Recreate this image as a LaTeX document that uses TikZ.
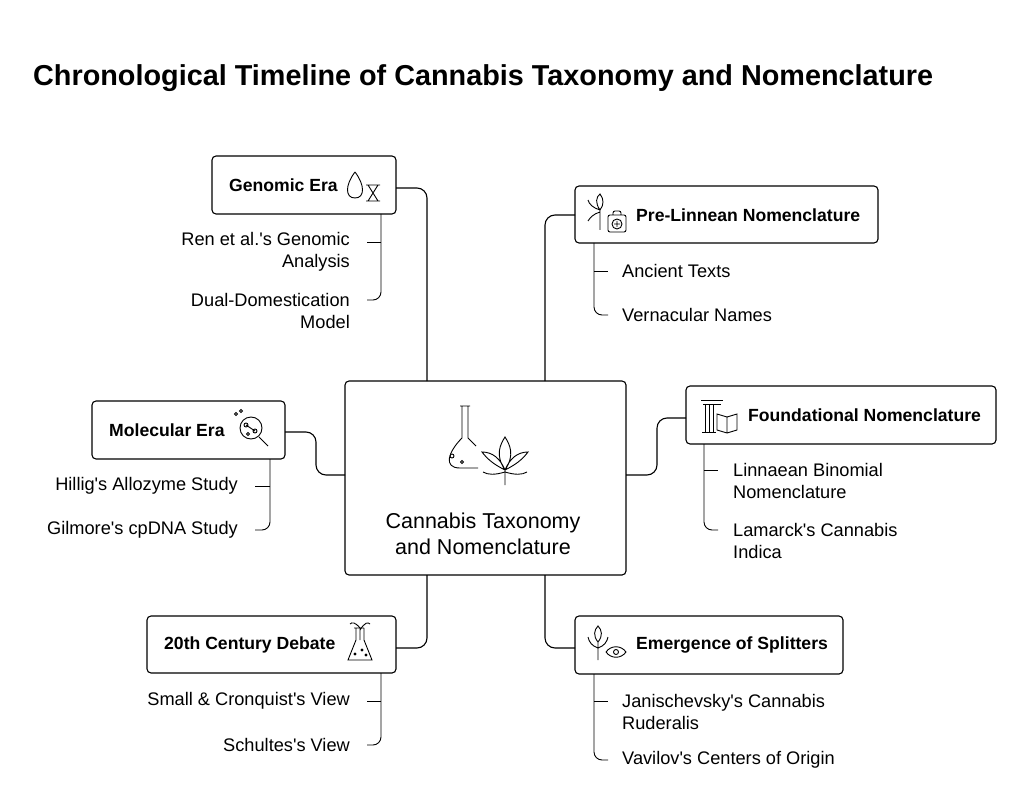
\documentclass[tikz,border=0pt]{standalone}
\usepackage{fontspec}
\setmainfont{Liberation Sans}[Ligatures=TeXOff]
\newcommand\ap{'}
\begin{document}
\begin{tikzpicture}[x=1pt,y=-1pt,
  box/.style={draw,line width=1.1pt,rounded corners=4pt},
  conn/.style={line width=1.1pt,rounded corners=10pt},
  sub/.style={line width=0.9pt,rounded corners=8pt},
  lbl/.style={font=\fontsize{17.6}{20}\selectfont\bfseries,anchor=west,inner sep=0},
  itm/.style={font=\fontsize{18.2}{22.5}\selectfont,inner sep=0,align=left},
  ic/.style={line width=0.9pt}]
\useasboundingbox (0,0) rectangle (1024,791);
\node[anchor=west,inner sep=0,font=\fontsize{28.8}{32}\selectfont\bfseries] (title) at (33,78) {Chronological Timeline of Cannabis Taxonomy and Nomenclature};
% center
\draw[box] (345,381) rectangle (626,575);
\coordinate (ct1) at (427,381); \coordinate (ct2) at (545,381);
\coordinate (cb1) at (427,575); \coordinate (cb2) at (545,575);
\node[itm,align=center,font=\fontsize{21.5}{26}\selectfont] (ctext) at (483,534) {Cannabis Taxonomy\\and Nomenclature};
% flask icon
\draw[ic] (460,406)--(470,406) (462,406)--(462,438) .. controls (448,452) and (443,468) .. (460,468) -- (478,468) (468,406)--(468,438)--(476,446);
\draw[ic] (452,456) circle (2pt) (462,462) circle (1.5pt);
% leaf icon
\draw[ic] (505,485)--(505,470) (505,470) .. controls (495,455) and (500,445) .. (505,437) .. controls (510,445) and (515,455) .. (505,470)
 (505,470) .. controls (495,465) and (488,460) .. (482,452) .. controls (492,452) and (500,458) .. (505,470)
 (505,470) .. controls (515,465) and (522,460) .. (528,452) .. controls (518,452) and (510,458) .. (505,470)
 (505,472) .. controls (495,475) and (488,475) .. (483,472) (505,472) .. controls (515,475) and (522,475) .. (527,472);
% Genomic
\draw[box] (212,156) rectangle (396,214); \node[lbl] (gen) at (229,185) {Genomic Era};
\draw[ic] (355,172) .. controls (345,185) and (345,198) .. (355,198) .. controls (365,198) and (365,185) .. (355,172);
\draw[ic] (366,185)--(380,185) (366,201)--(380,201) (368,185)--(378,201) (378,185)--(368,201);
\draw[conn] (396,188) -| (ct1);
\draw[sub] (381,214) |- (367,300); \draw[sub] (381,242)--(367,242);
\node[itm,anchor=east,align=right] (g1) at (350,252) {Ren et al.\ap s Genomic\\Analysis};
\node[itm,anchor=east,align=right] (g2) at (350,311) {Dual-Domestication\\Model};
% Pre-Linnean
\draw[box] (575,186) rectangle (878,243); \node[lbl] (pre) at (636,215) {Pre-Linnean Nomenclature};
\draw[ic] (600,210) .. controls (595,203) and (596,197) .. (600,194) .. controls (604,199) and (604,205) .. (600,210)
 (600,210) .. controls (593,208) and (589,204) .. (588,200) (600,212) .. controls (593,214) and (590,218) .. (588,221)
 (600,210)--(600,230);
\draw[ic,rounded corners=2pt] (608,215) rectangle (626,232) (613,215)--(613,211)--(621,211)--(621,215);
\draw[ic] (617,224) circle (5pt) (617,221)--(617,227) (614,224)--(620,224);
\draw[conn] (575,215) -| (ct2);
\draw[sub] (594,243) |- (608,315); \draw[sub] (594,271)--(608,271);
\node[itm,anchor=west] (p1) at (622,271) {Ancient Texts};
\node[itm,anchor=west] (p2) at (622,315) {Vernacular Names};
% Molecular
\draw[box] (92,401) rectangle (285,459); \node[lbl] (mol) at (109,430) {Molecular Era};
\draw[ic] (251,428) circle (11pt) (259,437)--(268,446);
\draw[ic] (246,425) circle (2pt) (255,431) circle (2pt) (248,434) circle (1.5pt) (246,425)--(255,431) (236,414) circle (1.5pt) (241,411) circle (1.5pt);
\draw[conn] (285,432) -| (316,475) -- (345,475);
\draw[sub] (270,459) |- (255,530); \draw[sub] (270,486)--(255,486);
\node[itm,anchor=east] (m1) at (238,486) {Hillig\ap s Allozyme Study};
\node[itm,anchor=east] (m2) at (238,530) {Gilmore\ap s cpDNA Study};
% Foundational
\draw[box] (686,386) rectangle (996,444); \node[lbl] (fou) at (748,415) {Foundational Nomenclature};
\draw[ic] (701,400)--(723,400) (703,404)--(721,404) (705,404)--(705,432) (709,404)--(709,432) (713,404)--(713,432) (702,432)--(716,432);
\draw[ic] (717,414)--(727,417)--(737,414)--(737,430)--(727,433)--(717,430)--cycle (727,417)--(727,433);
\draw[conn] (686,418) -| (657,475) -- (626,475);
\draw[sub] (704,444) |- (718,530); \draw[sub] (704,470)--(718,470);
\node[itm,anchor=west] (f1) at (733,481) {Linnaean Binomial\\Nomenclature};
\node[itm,anchor=west] (f2) at (733,541) {Lamarck\ap s Cannabis\\Indica};
% 20th century
\draw[box] (147,616) rectangle (396,673); \node[lbl] (twe) at (164,645) {20th Century Debate};
\draw[ic] (354,628)--(364,628) (356,628)--(356,640)--(348,660)--(372,660)--(364,640)--(364,628);
\draw[ic] (360,640)--(360,628) .. controls (355,622) and (352,622) .. (350,624) (360,630) .. controls (365,622) and (368,622) .. (370,624);
\draw[ic] (355,654) circle (1pt) (362,650) circle (1pt) (366,655) circle (1pt);
\draw[conn] (396,648) -| (cb1);
\draw[sub] (381,673) |- (367,745); \draw[sub] (381,701)--(367,701);
\node[itm,anchor=east] (t1) at (350,701) {Small \& Cronquist\ap s View};
\node[itm,anchor=east] (t2) at (350,745) {Schultes\ap s View};
% Emergence
\draw[box] (575,616) rectangle (843,674); \node[lbl] (eme) at (636,645) {Emergence of Splitters};
\draw[ic] (598,660)--(598,642) (598,642) .. controls (593,636) and (594,630) .. (598,626) .. controls (602,630) and (603,636) .. (598,642)
 (598,648) .. controls (592,646) and (589,642) .. (588,637) (598,648) .. controls (604,646) and (607,642) .. (608,637);
\draw[ic] (606,652) .. controls (611,645) and (621,645) .. (626,652) .. controls (621,659) and (611,659) .. (606,652);
\draw[ic] (616,652) circle (2.5pt);
\draw[conn] (575,648) -| (cb2);
\draw[sub] (594,674) |- (608,760); \draw[sub] (594,701)--(608,701);
\node[itm,anchor=west] (e1) at (622,712) {Janischevsky\ap s Cannabis\\Ruderalis};
\node[itm,anchor=west] (e2) at (622,760) {Vavilov\ap s Centers of Origin};
\end{tikzpicture}
\end{document}
